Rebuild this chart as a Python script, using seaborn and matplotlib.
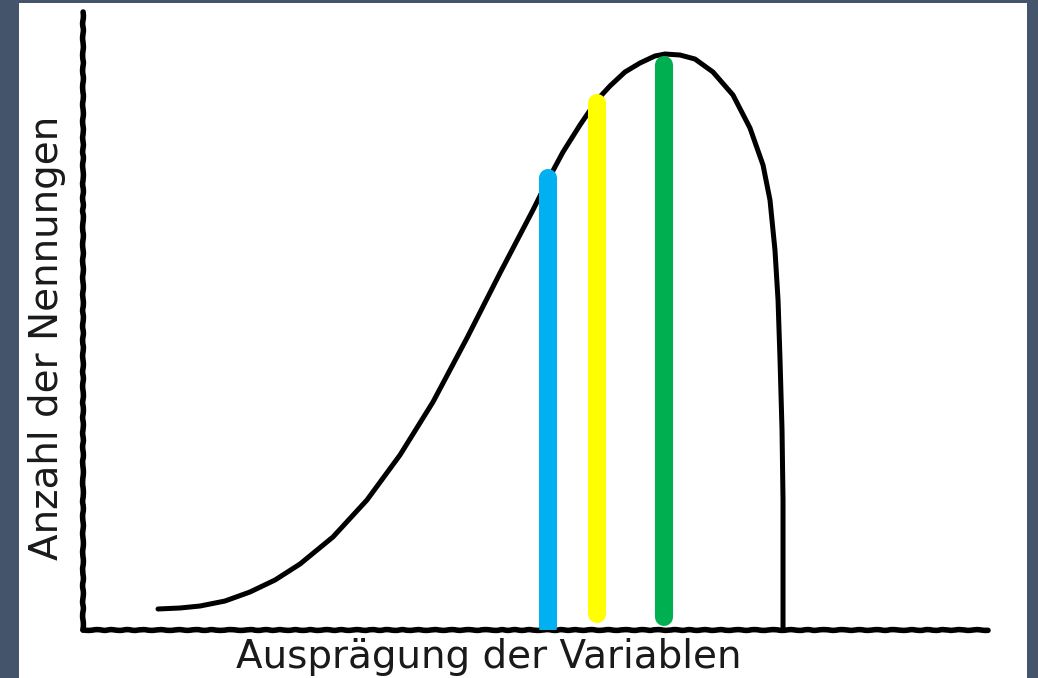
import matplotlib
matplotlib.use("Agg")
import matplotlib.pyplot as plt
import seaborn as sns
import pandas as pd
from matplotlib.patches import Rectangle

# Skewed distribution curve (x: Ausprägung, y: Anzahl), axis range 0..100
curve_x = [8.29, 10.72, 12.93, 15.69, 18.45, 21.22, 23.98, 27.62, 31.38, 35.03,
           38.67, 42.43, 46.08, 49.72, 51.38, 53.04, 54.92, 56.80, 58.23, 59.89,
           61.55, 63.20, 64.31, 65.97, 67.62, 69.61, 71.82, 73.70, 75.14, 75.91,
           76.46, 76.80, 77.02, 77.24, 77.35, 77.35, 77.35]
curve_y = [3.40, 3.56, 3.88, 4.69, 6.15, 8.09, 10.68, 15.05, 21.04, 28.32,
           36.89, 47.25, 57.77, 67.96, 72.82, 77.35, 81.72, 85.76, 88.03, 90.29,
           91.75, 92.88, 93.20, 93.04, 92.39, 90.29, 86.57, 81.23, 75.24, 69.58,
           61.49, 53.40, 43.69, 32.36, 21.04, 9.71, 0.0]

# Three marked positions under the curve
marker_names = ["blau", "gelb", "grün"]
marker_x = [51.38, 56.80, 64.20]
marker_top = [73.14, 85.28, 91.42]
marker_bottom = [0.49, 2.59, 2.10]
marker_colors = ["#00B0F0", "#FFFF00", "#00B050"]

x_label = "Ausprägung der Variablen"
y_label = "Anzahl der Nennungen"

sns.set_theme(style="white")
plt.rcParams["font.family"] = ["DejaVu Sans"]

W, H = 1038, 678
fig = plt.figure(figsize=(W / 100, H / 100), dpi=100, facecolor="#44546A")
fig.patches.append(Rectangle((19 / W, 0), (1027 - 19) / W, 675 / H,
                             transform=fig.transFigure, facecolor="white",
                             edgecolor="none", zorder=-1))

ax = fig.add_axes([83 / W, 48 / H, 905 / W, 618 / H])
ax.set_facecolor("none")
ax.set_xlim(0, 100)
ax.set_ylim(0, 100)
ax.set_xticks([])
ax.set_yticks([])
for side in ("top", "right"):
    ax.spines[side].set_visible(False)
for side in ("left", "bottom"):
    sp = ax.spines[side]
    sp.set_color("black")
    sp.set_linewidth(4)
    sp.set_capstyle("round")
    sp.set_sketch_params(0.4, 18, 2)

curve_df = pd.DataFrame({"x": curve_x, "y": curve_y})
sns.lineplot(data=curve_df, x="x", y="y", sort=False, estimator=None,
             color="black", linewidth=3.6, solid_joinstyle="round",
             solid_capstyle="round", ax=ax, zorder=2)

rows = []
for name, x, lo, hi in zip(marker_names, marker_x, marker_bottom, marker_top):
    rows.append({"name": name, "x": x, "y": lo})
    rows.append({"name": name, "x": x, "y": hi})
marker_df = pd.DataFrame(rows)
sns.lineplot(data=marker_df, x="x", y="y", hue="name", units="name",
             estimator=None, sort=False,
             palette=dict(zip(marker_names, marker_colors)),
             linewidth=13, solid_capstyle="round", legend=False, ax=ax, zorder=3)

ax.set_xlabel("")
ax.set_ylabel("")

fig.text(488.5 / W, 1 - 668 / H, x_label, ha="center", va="baseline",
         fontsize=28, color="#1a1a1a")
fig.text(47 / W, 1 - 338 / H, y_label, rotation=90, ha="center", va="center",
         fontsize=28, color="#1a1a1a")

fig.savefig("out.png", dpi=100, facecolor=fig.get_facecolor())
